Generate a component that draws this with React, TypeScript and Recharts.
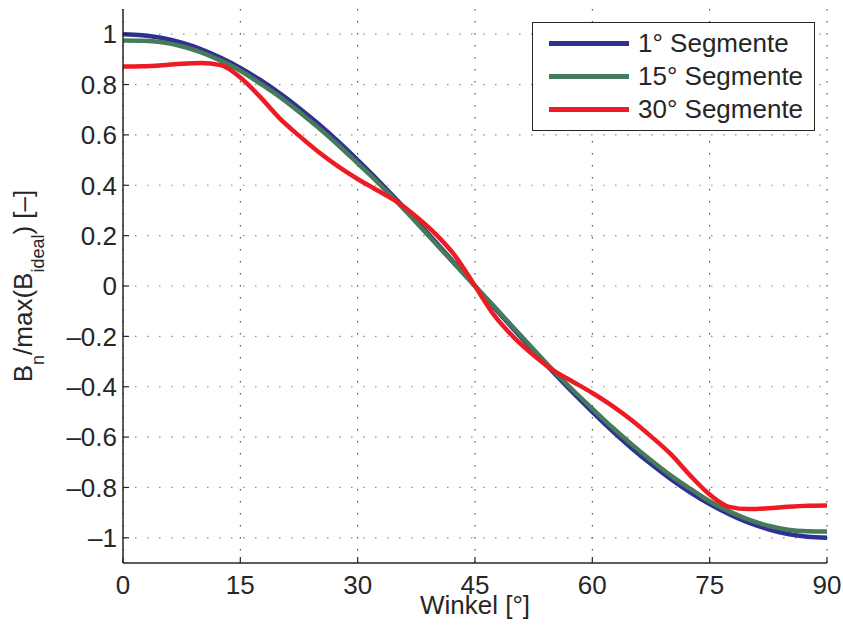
import React from "react";
import {
  LineChart,
  Line,
  XAxis,
  YAxis,
  CartesianGrid,
  Legend,
} from "recharts";

const angles = [
  0, 2.5, 5, 7.5, 10, 12.5, 15, 17.5, 20, 22.5, 25, 27.5, 30, 32.5, 35, 37.5,
  40, 42.5, 45, 47.5, 50, 52.5, 55, 57.5, 60, 62.5, 65, 67.5, 70, 72.5, 75,
  77.5, 80, 82.5, 85, 87.5, 90,
];

const seg1 = [
  1.0, 0.996, 0.985, 0.966, 0.94, 0.906, 0.866, 0.819, 0.766, 0.707, 0.643,
  0.574, 0.5, 0.423, 0.342, 0.259, 0.174, 0.087, 0, -0.087, -0.174, -0.259,
  -0.342, -0.423, -0.5, -0.574, -0.643, -0.707, -0.766, -0.819, -0.866,
  -0.906, -0.94, -0.966, -0.985, -0.996, -1.0,
];

const seg15 = [
  0.975, 0.974, 0.968, 0.952, 0.928, 0.895, 0.855, 0.805, 0.752, 0.692, 0.628,
  0.56, 0.487, 0.413, 0.335, 0.252, 0.168, 0.083, 0, -0.083, -0.168, -0.252,
  -0.335, -0.413, -0.487, -0.56, -0.628, -0.692, -0.752, -0.805, -0.855,
  -0.895, -0.928, -0.952, -0.968, -0.974, -0.975,
];

const seg30 = [
  0.872, 0.873, 0.877, 0.883, 0.886, 0.877, 0.828, 0.752, 0.667, 0.597, 0.532,
  0.475, 0.425, 0.38, 0.335, 0.275, 0.205, 0.118, 0, -0.118, -0.205, -0.275,
  -0.335, -0.38, -0.425, -0.475, -0.532, -0.597, -0.667, -0.752, -0.828,
  -0.877, -0.886, -0.883, -0.877, -0.873, -0.872,
];

const xTicks = [0, 15, 30, 45, 60, 75, 90];
const yTicks = [-1, -0.8, -0.6, -0.4, -0.2, 0, 0.2, 0.4, 0.6, 0.8, 1];

const seriesNames = ["1° Segmente", "15° Segmente", "30° Segmente"];
const seriesColors = ["#2e3192", "#457b5b", "#ed1c24"];

const xLabel = "Winkel [°]";

const data = angles.map((a, i) => ({
  a,
  s1: seg1[i],
  s15: seg15[i],
  s30: seg30[i],
}));

const FONT = "'Liberation Sans', Arial, Helvetica, sans-serif";
const TXT = "#262626";
const FS = 26;
const SUB = 18;
const TICK_LEN = 6;
const Y_MARGIN = 6;
const X_MARGIN = 13;

const fmt = (v: number) => {
  const s = String(Math.round(v * 10) / 10);
  return s.replace("-", "\u2013");
};

const LeftTick = (props: any) => {
  const { x, y, payload } = props;
  const ax = x + Y_MARGIN;
  return (
    <g>
      <line x1={ax} x2={ax + TICK_LEN} y1={y} y2={y} stroke={TXT} strokeWidth={1.2} />
      <text
        x={x}
        y={y}
        dy="0.355em"
        textAnchor="end"
        fontFamily={FONT}
        fontSize={FS}
        fill={TXT}
      >
        {fmt(payload.value)}
      </text>
    </g>
  );
};

const BottomTick = (props: any) => {
  const { x, y, payload } = props;
  const ay = y - X_MARGIN;
  return (
    <g>
      <line x1={x} x2={x} y1={ay} y2={ay - TICK_LEN} stroke={TXT} strokeWidth={1.2} />
      <text
        x={x}
        y={y}
        dy="0.71em"
        textAnchor="middle"
        fontFamily={FONT}
        fontSize={FS}
        fill={TXT}
      >
        {payload.value}
      </text>
    </g>
  );
};

const TopTick = (props: any) => {
  const { x, y } = props;
  return <line x1={x} x2={x} y1={y} y2={y + TICK_LEN} stroke={TXT} strokeWidth={1.2} />;
};

const RightTick = (props: any) => {
  const { x, y } = props;
  return <line x1={x - TICK_LEN} x2={x} y1={y} y2={y} stroke={TXT} strokeWidth={1.2} />;
};

const YLabel = (props: any) => {
  const vb = props.viewBox || {};
  const x = vb.x - 31;
  const y = vb.y + vb.height / 2;
  return (
    <text
      x={x}
      y={y}
      transform={`rotate(-90, ${x}, ${y})`}
      textAnchor="middle"
      fontFamily={FONT}
      fontSize={FS}
      fill={TXT}
    >
      <tspan>B</tspan>
      <tspan fontSize={SUB} dy={12}>n</tspan>
      <tspan dy={-12}>/max(B</tspan>
      <tspan fontSize={SUB} dy={12}>ideal</tspan>
      <tspan dy={-12}>) [–]</tspan>
    </text>
  );
};

const XLabel = (props: any) => {
  const vb = props.viewBox || {};
  const x = vb.x + vb.width / 2;
  const y = vb.y + 51;
  return (
    <text x={x} y={y} textAnchor="middle" fontFamily={FONT} fontSize={FS} fill={TXT}>
      {xLabel}
    </text>
  );
};

const LegendBox = () => {
  return (
    <div
      style={{
        width: 281,
        height: 103,
        border: `1.5px solid ${TXT}`,
        background: "#fff",
        paddingTop: 4,
        boxSizing: "content-box",
      }}
    >
      {seriesNames.map((name, i) => (
        <div
          key={name}
          style={{
            display: "flex",
            alignItems: "center",
            height: 33,
          }}
        >
          <div
            style={{
              marginLeft: 16,
              width: 80,
              height: 5,
              background: seriesColors[i],
            }}
          />
          <div
            style={{
              marginLeft: 9,
              fontFamily: FONT,
              fontSize: FS,
              color: TXT,
              lineHeight: "33px",
              whiteSpace: "nowrap",
            }}
          >
            {name}
          </div>
        </div>
      ))}
    </div>
  );
};

export default function App() {
  return (
    <div style={{ position: "absolute", left: 0, top: 0, background: "#fff" }}>
      <LineChart
        width={843}
        height={633}
        data={data}
        margin={{ top: 9, right: 16, left: 63, bottom: 40 }}
      >
        <CartesianGrid
          horizontal={false}
          stroke="#333"
          strokeWidth={1}
          strokeDasharray="1.5 10.5"
          verticalValues={xTicks}
        />
        <CartesianGrid
          vertical={false}
          stroke="#8a8a8a"
          strokeWidth={1.2}
          strokeDasharray="1.5 10.5"
          horizontalValues={yTicks}
        />
        <XAxis
          dataKey="a"
          type="number"
          domain={[0, 90]}
          ticks={xTicks}
          tickSize={0}
          tickMargin={X_MARGIN}
          tick={<BottomTick />}
          axisLine={{ stroke: TXT, strokeWidth: 1.5 }}
          tickLine={false}
          height={30}
          label={<XLabel />}
        />
        <XAxis
          xAxisId="top"
          orientation="top"
          dataKey="a"
          type="number"
          domain={[0, 90]}
          ticks={xTicks}
          tickSize={0}
          tickMargin={0}
          tick={<TopTick />}
          axisLine={{ stroke: TXT, strokeWidth: 1.5 }}
          tickLine={false}
          height={0}
        />
        <YAxis
          type="number"
          domain={[-1.1, 1.1]}
          ticks={yTicks}
          allowDataOverflow
          tickSize={0}
          tickMargin={Y_MARGIN}
          tick={<LeftTick />}
          axisLine={{ stroke: TXT, strokeWidth: 1.5 }}
          tickLine={false}
          width={60}
          label={<YLabel />}
        />
        <YAxis
          yAxisId="right"
          orientation="right"
          type="number"
          domain={[-1.1, 1.1]}
          ticks={yTicks}
          allowDataOverflow
          tickSize={0}
          tickMargin={0}
          tick={<RightTick />}
          axisLine={{ stroke: TXT, strokeWidth: 1.5 }}
          tickLine={false}
          width={0}
        />
        <Legend
          layout="vertical"
          align="center"
          verticalAlign="middle"
          wrapperStyle={{ position: "absolute", left: 532, top: 22, width: "auto" }}
          content={<LegendBox />}
        />
        <Line
          type="monotone"
          dataKey="s1"
          name={seriesNames[0]}
          stroke={seriesColors[0]}
          strokeWidth={4.5}
          dot={false}
          isAnimationActive={false}
        />
        <Line
          type="monotone"
          dataKey="s15"
          name={seriesNames[1]}
          stroke={seriesColors[1]}
          strokeWidth={4.5}
          dot={false}
          isAnimationActive={false}
        />
        <Line
          type="monotone"
          dataKey="s30"
          name={seriesNames[2]}
          stroke={seriesColors[2]}
          strokeWidth={4.5}
          dot={false}
          isAnimationActive={false}
        />
      </LineChart>
    </div>
  );
}
